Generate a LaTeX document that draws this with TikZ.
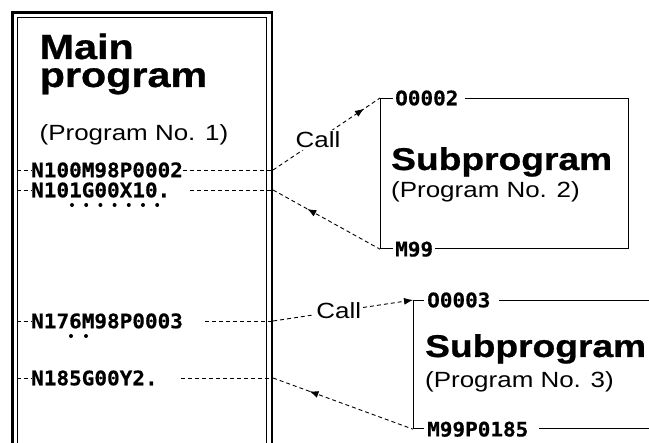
\documentclass[tikz,border=0pt]{standalone}
\usepackage{fontspec}
\setmainfont{Liberation Sans}[FakeStretch=1.18, BoldFeatures={FakeBold=0.8}]
\newfontfamily\codefont{DejaVu Sans Mono}[FakeStretch=1.05, BoldFeatures={FakeBold=0.6}]
\usepackage{tikz}
\usetikzlibrary{positioning, arrows.meta, decorations.markings}

\begin{document}
\begin{tikzpicture}[
  x=1pt, y=1pt,
  title/.style={font=\fontsize{35}{28}\selectfont\bfseries, inner sep=0pt, anchor=base west, align=left},
  subtitle/.style={font=\fontsize{31.5}{31.5}\selectfont\bfseries, inner sep=0pt, anchor=base west},
  note/.style={font=\fontsize{22}{22}\selectfont, inner sep=0pt, anchor=base west},
  code/.style={font=\fontsize{20}{20}\codefont\bfseries, inner sep=0pt, anchor=west},
  tag/.style={code, fill=white, inner xsep=2pt, inner ysep=1pt},
  call/.style={font=\fontsize{22}{22}\selectfont, fill=white, inner sep=2pt},
  subbox/.style={draw, line width=1.2pt, inner sep=0pt},
  link/.style={dash pattern=on 4pt off 3pt, line width=0.9pt},
  tip/.style={-{Latex[length=9pt, width=7pt]}},
  fwdmark/.style={postaction={decorate}, decoration={markings,
      mark=at position #1 with {\arrow{Latex[length=9pt, width=7pt]}}}},
  backmark/.style={postaction={decorate}, decoration={markings,
      mark=at position #1 with {\arrowreversed{Latex[length=9pt, width=7pt]}}}}
]
\useasboundingbox (0,0) rectangle (649,-443);
\clip (0,0) rectangle (649,-443);
% --- main program ---
\node[draw, line width=1.2pt, inner sep=0pt, minimum width=248.8, minimum height=460,
      anchor=north west] (main) at (16.7,-16.7) {};
\node[draw, line width=2.6pt, inner sep=0pt, minimum width=259.2, minimum height=470,
      anchor=north west] (mainout) at (11.3,-11.3) {};
\node[title] (mt) at (39.5,-87) {Main\\program};
\node[note] (mn) at (39.5,-141) {(Program No. 1)};
\node[code] (c100) at (31,-170) {N100M98P0002};
\node[code] (c101) at (31,-190) {N101G00X10.};
\node[code] (c176) at (31,-321) {N176M98P0003};
\node[code] (c185) at (31,-378) {N185G00Y2.};
\foreach \i in {0,...,6}
  \fill ([xshift=41pt+14.2pt*\i, yshift=-15pt]c101.west) circle (2pt);
\foreach \i in {0,1}
  \fill ([xshift=40pt+15pt*\i, yshift=-15pt]c176.west) circle (2pt);
\foreach \c in {c100, c101, c176, c185}
  \draw[link] (main.west |- \c) -- (\c);
% --- subprogram 2 ---
\node[subbox, minimum width=248, minimum height=150, anchor=north west] (s2) at (380,-98) {};
\node[tag] (o2) at ([xshift=13pt]s2.north west) {O0002\kern5pt};
\node[tag] (m2) at ([xshift=13pt]s2.south west) {M99};
\node[subtitle] (st2) at ([xshift=11pt, yshift=-72pt]s2.north west) {Subprogram};
\node[note] (sn2) at ([yshift=-28pt]st2.base west) {(Program No. 2)};
% --- subprogram 3 ---
\node[subbox, minimum width=260, minimum height=128, anchor=north west] (s3) at (413,-300) {};
\node[tag, inner xsep=3pt] (o3) at ([xshift=11pt]s3.north west) {O0003\kern6pt};
\node[tag, inner xsep=3pt] (m3) at ([xshift=11pt]s3.south west) {M99P0185\kern8pt};
\node[subtitle] (st3) at ([xshift=12pt, yshift=-57pt]s3.north west) {Subprogram};
\node[note] (sn3) at ([yshift=-31pt]st3.base west) {(Program No. 3)};
% --- calls and returns ---
\draw[link] (c100) -- (mainout.east |- c100);
\draw[link, fwdmark=0.85] (mainout.east |- c100) -- node[call, pos=0.42] {Call} (s2.north west);
\draw[link] ([xshift=20pt]c101.east) -- (mainout.east |- c101);
\draw[link, backmark=0.32] (mainout.east |- c101) -- (s2.south west);
\draw[link] ([xshift=22pt]c176.east) -- (mainout.east |- c176);
\draw[link, tip] (mainout.east |- c176) -- node[call, pos=0.47] {Call} (s3.north west);
\draw[link] ([xshift=23pt]c185.east) -- (mainout.east |- c185);
\draw[link, backmark=0.26] (mainout.east |- c185) -- (s3.south west);
\end{tikzpicture}
\end{document}
